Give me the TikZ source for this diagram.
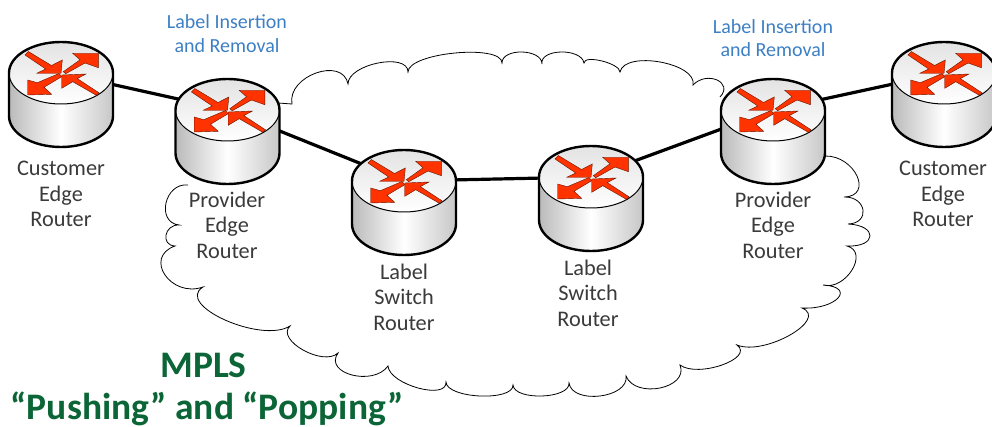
\documentclass[tikz,border=0pt]{standalone}
\usepackage{fontspec}
\setmainfont{Carlito}
\definecolor{lbltext}{HTML}{3A3A3A}
\definecolor{bluetext}{HTML}{3D7FC4}
\definecolor{greentext}{HTML}{0B6536}
\definecolor{arrowred}{HTML}{FF3300}
\tikzset{
  routerlabel/.style={align=center,text=lbltext,inner sep=0pt,font=\fontsize{22.3}{25.5}\selectfont},
  bluelabel/.style={align=center,text=bluetext,inner sep=0pt,font=\fontsize{20}{23.5}\selectfont},
  titlelabel/.style={align=center,text=greentext,inner sep=0pt,font=\fontsize{37.5}{42}\selectfont\bfseries},
  linkline/.style={line width=3.2pt,black},
  cloudline/.style={line width=0.8pt,black},
  redarrow/.style={fill=arrowred,draw=black!60!arrowred,line width=0.4pt,line join=miter},
  router/.pic={
    \path[left color=black!27,right color=black!22,middle color=white]
      (-52,0) -- (-52,43) arc[start angle=180,end angle=360,x radius=52,y radius=-31] -- (52,0) -- cycle;
    \path[top color=black!11,bottom color=white] (0,0) ellipse[x radius=52,y radius=31];
    \draw[line width=1pt] (-52,0) arc[start angle=180,end angle=360,x radius=52,y radius=-31];
    \draw[line width=2.4pt,line join=round]
      (-52,43) arc[start angle=180,end angle=360,x radius=52,y radius=-31] -- (52,0)
      arc[start angle=0,end angle=180,x radius=52,y radius=-31] -- cycle;
    \draw[redarrow] (-32.7,-21.5) -- (-9.5,-7.5) -- (1.3,-13) -- (0,0.3) -- (-24.3,0.3) -- (-15.3,-4) -- (-36,-18) -- cycle;
    \draw[redarrow] (2.3,-1.3) -- (19,-13.2) -- (11.7,-19.7) -- (37.3,-19.7) -- (37.3,-5.3) -- (24,-10) -- (4.7,0.8) -- cycle;
    \draw[redarrow] (-2,0.5) -- (-23.7,9.7) -- (-33.3,7) -- (-33.3,22) -- (-9.3,21.3) -- (-17,14.3) -- (0.7,3.7) -- cycle;
    \draw[redarrow] (38,19.8) -- (35.3,22.3) -- (11.7,8.7) -- (0.7,15.3) -- (0.7,2) -- (25,1) -- (16.3,5.6) -- cycle;
  }
}
\begin{document}
\begin{tikzpicture}[x=1pt,y=-1pt]
\useasboundingbox (0,0) rectangle (992,427);
% cloud
\draw[cloudline] (278,103) -- (292,104)
  foreach \ax/\ay/\mx/\my/\bx/\by in {
    292/104/316/73/348/84, 348/84/378/63/408/72, 408/72/455/53/502/63,
    502/63/522/52/542/64, 542/64/561/52/584/63, 584/63/602/61/620/72,
    620/72/660/62/693/85, 693/85/717/80/720/97} {
    .. controls ({\ax+4/3*(\mx-(\ax+\bx)/2)},{\ay+4/3*(\my-(\ay+\by)/2)})
      and ({\bx+4/3*(\mx-(\ax+\bx)/2)},{\by+4/3*(\my-(\ay+\by)/2)}) .. (\bx,\by)
  };
\draw[cloudline] (825,156)
  foreach \ax/\ay/\mx/\my/\bx/\by in {
    825/156/857/176/844/197, 844/197/863/210/848/224, 848/224/870/236/847/246,
    847/246/852/270/823/285, 823/285/838/298/802/308, 802/308/790/335/737/345,
    737/345/722/365/680/365, 680/365/660/388/626/376, 626/376/600/396/569/383,
    569/383/542/396/513/385, 513/385/480/396/446/382, 446/382/418/388/388/366,
    388/366/352/375/338/353, 338/353/303/350/290/326, 290/326/225/320/203/287,
    203/287/165/275/175/246, 175/246/166/235/179/225, 179/225/166/203/188/185} {
    .. controls ({\ax+4/3*(\mx-(\ax+\bx)/2)},{\ay+4/3*(\my-(\ay+\by)/2)})
      and ({\bx+4/3*(\mx-(\ax+\bx)/2)},{\by+4/3*(\my-(\ay+\by)/2)}) .. (\bx,\by)
  };
% router centres
\coordinate (ceL) at (61,73);
\coordinate (peL) at (227.5,110);
\coordinate (lsrA) at (404,181);
\coordinate (lsrB) at (591,177);
\coordinate (peR) at (773,110);
\coordinate (ceR) at (944,73);
% connectors
\draw[linkline] (ceL) -- (peL);
\draw[linkline] (peL) -- (lsrA);
\draw[linkline] (lsrA) -- (lsrB);
\draw[linkline] (lsrB) -- (peR);
\draw[linkline] (peR) -- (ceR);
% routers
\foreach \r in {ceL,peL,lsrA,lsrB,peR,ceR} \pic at (\r) {router};
% labels
\node[routerlabel] (tCeL) at (61,194) {Customer\\Edge\\Router};
\node[routerlabel] (tPeL) at (227,225) {Provider\\Edge\\Router};
\node[routerlabel] (tLsrA) at (404,297) {Label\\Switch\\Router};
\node[routerlabel] (tLsrB) at (588,293) {Label\\Switch\\Router};
\node[routerlabel] (tPeR) at (773,225) {Provider\\Edge\\Router};
\node[routerlabel] (tCeR) at (943,194) {Customer\\Edge\\Router};
\node[bluelabel] (bL) at (227,33.5) {Label Insertion\\and Removal};
\node[bluelabel] (bR) at (773,38) {Label Insertion\\and Removal};
\node[titlelabel] (title) at (207,389) {MPLS\hspace*{7pt}\\“Pushing” and “Popping”};
\end{tikzpicture}
\end{document}
